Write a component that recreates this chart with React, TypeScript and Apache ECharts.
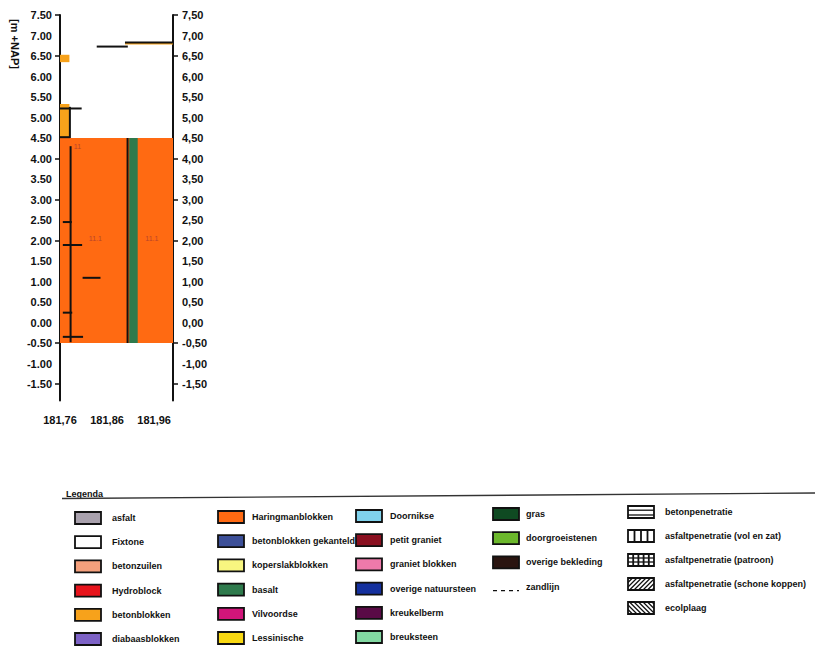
import { useEffect, useRef } from 'react';
import * as echarts from 'echarts';

// ---- axes ----
const xLabelValues = [181.76, 181.86, 181.96];
const yLabelValues = [-1.5, -1.0, -0.5, 0, 0.5, 1.0, 1.5, 2.0, 2.5, 3.0, 3.5, 4.0, 4.5, 5.0, 5.5, 6.0, 6.5, 7.0, 7.5];
const yTickValues = [-1.5, -0.5, 2.0, 3.0, 4.0, 6.5, 7.5];

// ---- revetment layers (filled areas) ----
const layerType = ['Haringmanblokken', 'betonblokken', 'betonblokken', 'basalt', 'betonblokken'];
const layerX0 = [181.76, 181.76, 181.76, 181.907, 181.898];
const layerX1 = [182.0, 181.78, 181.78, 181.925, 182.0];
const layerBottom = [-0.5, 4.5, 6.35, -0.5, 6.78];
const layerTop = [4.5, 5.33, 6.53, 4.5, 6.82];

// ---- black profile lines ----
const lineX0 = [181.9035, 181.7825, 181.781, 181.76, 181.76, 181.766, 181.766, 181.766, 181.766, 181.808, 181.838, 181.898];
const lineX1 = [181.9035, 181.7825, 181.781, 181.781, 181.806, 181.785, 181.807, 181.786, 181.809, 181.846, 181.904, 182.0];
const lineY0 = [-0.5, -0.48, 4.5, 4.52, 5.22, 2.45, 1.89, 0.24, -0.35, 1.09, 6.73, 6.83];
const lineY1 = [4.5, 4.3, 5.26, 4.52, 5.22, 2.45, 1.89, 0.24, -0.35, 1.09, 6.73, 6.83];

// ---- codes inside the layers ----
const codeText = ['11', '11.1', '11.1'];
const codeX = [181.797, 181.835, 181.955];
const codeY = [4.29, 2.04, 2.04];

// ---- legend ----
const legendCol1 = ['asfalt', 'Fixtone', 'betonzuilen', 'Hydroblock', 'betonblokken', 'diabaasblokken'];
const legendCol1Colors = ['#a9a1ad', '#ffffff', '#f5a07c', '#e8141c', '#f7a21b', '#7d62c6'];
const legendCol2 = ['Haringmanblokken', 'betonblokken gekanteld', 'koperslakblokken', 'basalt', 'Vilvoordse', 'Lessinische'];
const legendCol2Colors = ['#ff6a12', '#3c4f98', '#f8f680', '#2e7a4c', '#d2157a', '#f8d812'];
const legendCol3 = ['Doornikse', 'petit graniet', 'graniet blokken', 'overige natuursteen', 'kreukelberm', 'breuksteen'];
const legendCol3Colors = ['#80d2ec', '#8a1020', '#ee7aaa', '#14309e', '#5a0a46', '#82d8a2'];
const legendCol4 = ['gras', 'doorgroeistenen', 'overige bekleding', 'zandlijn'];
const legendCol4Colors = ['#0f4a22', '#6cb82c', '#2a1410', ''];
const legendCol5 = ['betonpenetratie', 'asfaltpenetratie (vol en zat)', 'asfaltpenetratie (patroon)', 'asfaltpenetratie (schone koppen)', 'ecolplaag'];
const legendCol5Patterns = ['double', 'vertical', 'grid', 'slash', 'backslash'];

const FONT = "'Liberation Sans', Arial, sans-serif";

function colorOf(name: string): string {
  const names = [...legendCol1, ...legendCol2, ...legendCol3, ...legendCol4];
  const cols = [...legendCol1Colors, ...legendCol2Colors, ...legendCol3Colors, ...legendCol4Colors];
  const i = names.indexOf(name);
  return i >= 0 ? cols[i] : '#999';
}

function patternSwatch(kind: string, x: number, y: number, w: number, h: number): any[] {
  const els: any[] = [];
  const st = { stroke: '#111', lineWidth: 1.3 };
  els.push({ type: 'rect', shape: { x, y, width: w, height: h }, style: { fill: '#fff', stroke: '#111', lineWidth: 1.8 } });
  if (kind === 'double') {
    els.push({ type: 'line', shape: { x1: x, y1: y + h * 0.35, x2: x + w, y2: y + h * 0.35 }, style: st });
    els.push({ type: 'line', shape: { x1: x, y1: y + h * 0.75, x2: x + w, y2: y + h * 0.75 }, style: st });
  } else if (kind === 'vertical' || kind === 'grid') {
    const n = kind === 'grid' ? 5 : 4;
    for (let i = 1; i < n; i++) {
      const xx = x + (w * i) / n;
      els.push({ type: 'line', shape: { x1: xx, y1: y, x2: xx, y2: y + h }, style: { stroke: '#111', lineWidth: 1.8 } });
    }
    if (kind === 'grid') {
      els.push({ type: 'line', shape: { x1: x, y1: y + h / 3, x2: x + w, y2: y + h / 3 }, style: st });
      els.push({ type: 'line', shape: { x1: x, y1: y + (2 * h) / 3, x2: x + w, y2: y + (2 * h) / 3 }, style: st });
    }
  } else {
    const step = 4.5;
    for (let a = -h; a < w; a += step) {
      const t0 = Math.max(0, -a);
      const t1 = Math.min(h, w - a);
      if (t1 <= t0) continue;
      if (kind === 'slash') {
        els.push({ type: 'line', shape: { x1: x + a + t0, y1: y + h - t0, x2: x + a + t1, y2: y + h - t1 }, style: st });
      } else {
        els.push({ type: 'line', shape: { x1: x + a + t0, y1: y + t0, x2: x + a + t1, y2: y + t1 }, style: st });
      }
    }
  }
  return els;
}

function buildLegend(): any[] {
  const els: any[] = [];
  const rowH = 24.2;
  els.push({ type: 'text', x: 66, y: 494, style: { text: 'Legenda', font: `bold 9px ${FONT}`, fill: '#111', verticalAlign: 'middle' } });
  els.push({ type: 'line', shape: { x1: 62, y1: 498.5, x2: 815, y2: 493 }, style: { stroke: '#333', lineWidth: 1.4 } });
  const cols = [
    { names: legendCol1, colors: legendCol1Colors, sx: 75, tx: 112, y0: 518 },
    { names: legendCol2, colors: legendCol2Colors, sx: 218, tx: 252, y0: 517 },
    { names: legendCol3, colors: legendCol3Colors, sx: 356, tx: 390, y0: 516 },
    { names: legendCol4, colors: legendCol4Colors, sx: 493, tx: 526, y0: 514 },
  ];
  const w = 26;
  const h = 12;
  cols.forEach((c) => {
    c.names.forEach((n, i) => {
      const cy = c.y0 + i * rowH;
      if (n === 'zandlijn') {
        els.push({ type: 'line', shape: { x1: c.sx, y1: cy + 4, x2: c.sx + w, y2: cy + 4 }, style: { stroke: '#111', lineWidth: 1.3, lineDash: [4, 4] } });
      } else {
        els.push({ type: 'rect', shape: { x: c.sx, y: cy - h / 2, width: w, height: h }, style: { fill: c.colors[i], stroke: '#111', lineWidth: 1.8 } });
      }
      els.push({ type: 'text', x: c.tx, y: cy, style: { text: n, font: `bold 9px ${FONT}`, fill: '#111', verticalAlign: 'middle' } });
    });
  });
  legendCol5.forEach((n, i) => {
    const cy = 512 + i * 24;
    els.push(...patternSwatch(legendCol5Patterns[i], 628, cy - 6, 26, 12));
    els.push({ type: 'text', x: 665, y: cy, style: { text: n, font: `bold 9px ${FONT}`, fill: '#111', verticalAlign: 'middle' } });
  });
  return els;
}

export default function App() {
  const ref = useRef<HTMLDivElement>(null);
  useEffect(() => {
    if (!ref.current) return;
    const chart = echarts.init(ref.current, null, { renderer: 'svg' });
    const layerData = layerType.map((t, i) => [layerX0[i], layerX1[i], layerBottom[i], layerTop[i], i]);
    const lineData = lineX0.map((x, i) => [x, lineX1[i], lineY0[i], lineY1[i]]);
    const textData = codeText.map((t, i) => [codeX[i], codeY[i], i]);
    const labelStyle = { color: '#111', fontWeight: 'bold' as const, fontSize: 11, fontFamily: FONT };
    chart.setOption({
      animation: false,
      backgroundColor: '#fff',
      grid: { left: 60, top: 15, width: 113, height: 385.4, containLabel: false },
      xAxis: [
        {
          type: 'value', min: 181.76, max: 182.0, position: 'bottom',
          axisLine: { show: false }, axisTick: { show: false }, splitLine: { show: false },
          axisLabel: { ...labelStyle, margin: 14, customValues: xLabelValues, formatter: (v: number) => v.toFixed(2).replace('.', ',') },
        },
        {
          type: 'value', min: 181.76, max: 182.0, position: 'top',
          axisLine: { show: true, lineStyle: { color: '#111', width: 2 } }, axisTick: { show: false },
          axisLabel: { show: false }, splitLine: { show: false },
        },
      ],
      yAxis: [
        {
          type: 'value', min: -1.9, max: 7.5, position: 'left',
          axisLine: { show: true, lineStyle: { color: '#111', width: 2 } },
          axisTick: { show: true, length: 5, customValues: yTickValues, lineStyle: { color: '#111', width: 1.5 } },
          axisLabel: { ...labelStyle, margin: 8, customValues: yLabelValues, formatter: (v: number) => v.toFixed(2) },
          splitLine: { show: false },
        },
        {
          type: 'value', min: -1.9, max: 7.5, position: 'right',
          axisLine: { show: true, lineStyle: { color: '#111', width: 2 } },
          axisTick: { show: true, length: 5, customValues: yTickValues, lineStyle: { color: '#111', width: 1.5 } },
          axisLabel: { ...labelStyle, margin: 9, customValues: yLabelValues, formatter: (v: number) => v.toFixed(2).replace('.', ',') },
          splitLine: { show: false },
        },
      ],
      series: [
        {
          type: 'custom', xAxisIndex: 0, yAxisIndex: 0, clip: false,
          encode: { x: [0, 1], y: [2, 3] },
          data: layerData,
          renderItem: (params: any, api: any) => {
            const p0 = api.coord([api.value(0), api.value(3)]);
            const p1 = api.coord([api.value(1), api.value(2)]);
            return {
              type: 'rect',
              shape: { x: p0[0], y: p0[1], width: p1[0] - p0[0], height: p1[1] - p0[1] },
              style: { fill: colorOf(layerType[api.value(4)]) },
            };
          },
        },
        {
          type: 'custom', xAxisIndex: 0, yAxisIndex: 0, clip: false,
          encode: { x: [0, 1], y: [2, 3] },
          data: lineData,
          renderItem: (params: any, api: any) => {
            const p0 = api.coord([api.value(0), api.value(2)]);
            const p1 = api.coord([api.value(1), api.value(3)]);
            return {
              type: 'line',
              shape: { x1: p0[0], y1: p0[1], x2: p1[0], y2: p1[1] },
              style: { stroke: '#111', lineWidth: 2 },
            };
          },
        },
        {
          type: 'custom', xAxisIndex: 0, yAxisIndex: 0, clip: false,
          encode: { x: 0, y: 1 },
          data: textData,
          renderItem: (params: any, api: any) => {
            const p = api.coord([api.value(0), api.value(1)]);
            return {
              type: 'text', x: p[0], y: p[1],
              style: { text: codeText[api.value(2)], fill: '#b8452a', font: `7px ${FONT}`, align: 'center', verticalAlign: 'middle' },
            };
          },
        },
      ],
      graphic: [
        {
          type: 'text', x: 15, y: 44, rotation: -Math.PI / 2,
          style: { text: '[m +NAP]', font: `bold 11px ${FONT}`, fill: '#111', align: 'center', verticalAlign: 'middle' },
        },
        ...buildLegend(),
      ],
    });
    return () => chart.dispose();
  }, []);
  return <div ref={ref} style={{ position: 'absolute', left: 0, top: 0, width: 815, height: 652, background: '#fff' }} />;
}
